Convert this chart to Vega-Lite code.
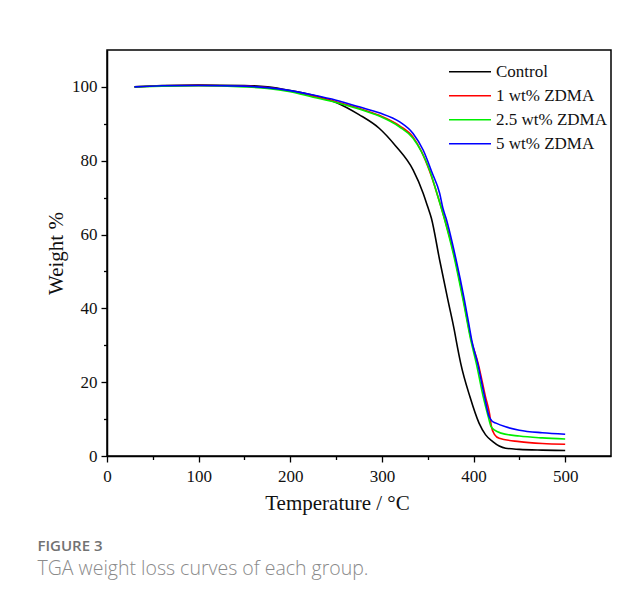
{
  "$schema": "https://vega.github.io/schema/vega-lite/v6.json",
  "width": 504,
  "height": 406,
  "autosize": {"type": "none"},
  "padding": {"left": 107, "top": 50, "right": 33, "bottom": 142},
  "background": "white",
  "config": {
    "view": {"stroke": "black", "strokeWidth": 1.5},
    "axis": {
      "domainColor": "black",
      "domainWidth": 1.5,
      "tickColor": "black",
      "tickWidth": 1.3,
      "grid": false,
      "labelFont": "Liberation Serif",
      "labelFontSize": 17,
      "labelColor": "#111",
      "titleFont": "Liberation Serif",
      "titleFontSize": 21,
      "titleFontWeight": "normal",
      "titleColor": "#111"
    }
  },
  "title": {
    "text": "FIGURE 3",
    "subtitle": "TGA weight loss curves of each group.",
    "orient": "bottom",
    "anchor": "start",
    "frame": "bounds",
    "dx": -8,
    "offset": 26,
    "font": "Open Sans",
    "fontSize": 15,
    "fontWeight": 600,
    "color": "#727272",
    "subtitleFont": "Open Sans",
    "subtitleFontSize": 19.5,
    "subtitleFontWeight": 300,
    "subtitleColor": "#8a8a8a",
    "subtitlePadding": 6
  },
  "data": {
    "values": [
      {"series": "Control", "T": 30, "W": 100.0},
      {"series": "Control", "T": 60, "W": 100.4},
      {"series": "Control", "T": 100, "W": 100.5},
      {"series": "Control", "T": 150, "W": 100.4},
      {"series": "Control", "T": 175, "W": 100.0},
      {"series": "Control", "T": 200, "W": 99.0},
      {"series": "Control", "T": 225, "W": 97.7},
      {"series": "Control", "T": 250, "W": 95.8},
      {"series": "Control", "T": 275, "W": 92.5},
      {"series": "Control", "T": 297, "W": 88.8},
      {"series": "Control", "T": 315, "W": 84.0},
      {"series": "Control", "T": 334, "W": 77.5},
      {"series": "Control", "T": 345, "W": 71.2},
      {"series": "Control", "T": 350, "W": 67.5},
      {"series": "Control", "T": 354, "W": 64.4},
      {"series": "Control", "T": 363, "W": 53.1},
      {"series": "Control", "T": 372, "W": 42.3},
      {"series": "Control", "T": 379, "W": 34.1},
      {"series": "Control", "T": 381, "W": 31.4},
      {"series": "Control", "T": 386, "W": 25.1},
      {"series": "Control", "T": 396, "W": 16.1},
      {"series": "Control", "T": 406, "W": 8.9},
      {"series": "Control", "T": 413, "W": 5.8},
      {"series": "Control", "T": 421, "W": 3.9},
      {"series": "Control", "T": 428, "W": 2.7},
      {"series": "Control", "T": 435, "W": 2.1},
      {"series": "Control", "T": 450, "W": 1.8},
      {"series": "Control", "T": 475, "W": 1.6},
      {"series": "Control", "T": 500, "W": 1.5},

      {"series": "1 wt% ZDMA", "T": 30, "W": 100.0},
      {"series": "1 wt% ZDMA", "T": 60, "W": 100.3},
      {"series": "1 wt% ZDMA", "T": 100, "W": 100.4},
      {"series": "1 wt% ZDMA", "T": 150, "W": 100.2},
      {"series": "1 wt% ZDMA", "T": 175, "W": 99.8},
      {"series": "1 wt% ZDMA", "T": 200, "W": 98.9},
      {"series": "1 wt% ZDMA", "T": 225, "W": 97.5},
      {"series": "1 wt% ZDMA", "T": 250, "W": 96.0},
      {"series": "1 wt% ZDMA", "T": 275, "W": 94.2},
      {"series": "1 wt% ZDMA", "T": 297, "W": 92.3},
      {"series": "1 wt% ZDMA", "T": 319, "W": 89.5},
      {"series": "1 wt% ZDMA", "T": 334, "W": 86.4},
      {"series": "1 wt% ZDMA", "T": 343, "W": 82.6},
      {"series": "1 wt% ZDMA", "T": 352, "W": 77.2},
      {"series": "1 wt% ZDMA", "T": 360, "W": 71.2},
      {"series": "1 wt% ZDMA", "T": 368, "W": 64.6},
      {"series": "1 wt% ZDMA", "T": 380, "W": 53.3},
      {"series": "1 wt% ZDMA", "T": 389, "W": 42.4},
      {"series": "1 wt% ZDMA", "T": 397.5, "W": 31.4},
      {"series": "1 wt% ZDMA", "T": 405, "W": 25.1},
      {"series": "1 wt% ZDMA", "T": 413, "W": 16.1},
      {"series": "1 wt% ZDMA", "T": 417.5, "W": 11.4},
      {"series": "1 wt% ZDMA", "T": 419.5, "W": 8.0},
      {"series": "1 wt% ZDMA", "T": 423, "W": 5.8},
      {"series": "1 wt% ZDMA", "T": 428, "W": 4.8},
      {"series": "1 wt% ZDMA", "T": 450, "W": 3.9},
      {"series": "1 wt% ZDMA", "T": 475, "W": 3.4},
      {"series": "1 wt% ZDMA", "T": 500, "W": 3.2},

      {"series": "2.5 wt% ZDMA", "T": 30, "W": 100.0},
      {"series": "2.5 wt% ZDMA", "T": 60, "W": 100.2},
      {"series": "2.5 wt% ZDMA", "T": 100, "W": 100.3},
      {"series": "2.5 wt% ZDMA", "T": 150, "W": 100.0},
      {"series": "2.5 wt% ZDMA", "T": 175, "W": 99.6},
      {"series": "2.5 wt% ZDMA", "T": 200, "W": 98.7},
      {"series": "2.5 wt% ZDMA", "T": 225, "W": 97.2},
      {"series": "2.5 wt% ZDMA", "T": 250, "W": 95.8},
      {"series": "2.5 wt% ZDMA", "T": 275, "W": 94.0},
      {"series": "2.5 wt% ZDMA", "T": 297, "W": 92.1},
      {"series": "2.5 wt% ZDMA", "T": 319, "W": 89.2},
      {"series": "2.5 wt% ZDMA", "T": 334, "W": 86.1},
      {"series": "2.5 wt% ZDMA", "T": 343, "W": 82.5},
      {"series": "2.5 wt% ZDMA", "T": 352, "W": 77.5},
      {"series": "2.5 wt% ZDMA", "T": 360, "W": 71.2},
      {"series": "2.5 wt% ZDMA", "T": 368, "W": 64.4},
      {"series": "2.5 wt% ZDMA", "T": 379.5, "W": 53.1},
      {"series": "2.5 wt% ZDMA", "T": 388.5, "W": 42.3},
      {"series": "2.5 wt% ZDMA", "T": 397, "W": 31.4},
      {"series": "2.5 wt% ZDMA", "T": 403, "W": 25.1},
      {"series": "2.5 wt% ZDMA", "T": 410.5, "W": 16.1},
      {"series": "2.5 wt% ZDMA", "T": 416, "W": 10.7},
      {"series": "2.5 wt% ZDMA", "T": 419, "W": 8.0},
      {"series": "2.5 wt% ZDMA", "T": 423, "W": 7.0},
      {"series": "2.5 wt% ZDMA", "T": 430, "W": 6.2},
      {"series": "2.5 wt% ZDMA", "T": 450, "W": 5.4},
      {"series": "2.5 wt% ZDMA", "T": 475, "W": 4.9},
      {"series": "2.5 wt% ZDMA", "T": 500, "W": 4.6},

      {"series": "5 wt% ZDMA", "T": 30, "W": 100.0},
      {"series": "5 wt% ZDMA", "T": 60, "W": 100.3},
      {"series": "5 wt% ZDMA", "T": 100, "W": 100.4},
      {"series": "5 wt% ZDMA", "T": 150, "W": 100.2},
      {"series": "5 wt% ZDMA", "T": 175, "W": 99.8},
      {"series": "5 wt% ZDMA", "T": 200, "W": 99.0},
      {"series": "5 wt% ZDMA", "T": 225, "W": 97.8},
      {"series": "5 wt% ZDMA", "T": 250, "W": 96.4},
      {"series": "5 wt% ZDMA", "T": 275, "W": 94.6},
      {"series": "5 wt% ZDMA", "T": 297, "W": 93.0},
      {"series": "5 wt% ZDMA", "T": 319, "W": 90.6},
      {"series": "5 wt% ZDMA", "T": 334, "W": 87.4},
      {"series": "5 wt% ZDMA", "T": 345, "W": 82.9},
      {"series": "5 wt% ZDMA", "T": 355, "W": 76.6},
      {"series": "5 wt% ZDMA", "T": 363, "W": 71.2},
      {"series": "5 wt% ZDMA", "T": 366.5, "W": 67.2},
      {"series": "5 wt% ZDMA", "T": 370, "W": 64.4},
      {"series": "5 wt% ZDMA", "T": 381, "W": 53.1},
      {"series": "5 wt% ZDMA", "T": 390, "W": 42.3},
      {"series": "5 wt% ZDMA", "T": 395, "W": 35.5},
      {"series": "5 wt% ZDMA", "T": 398, "W": 31.4},
      {"series": "5 wt% ZDMA", "T": 404.5, "W": 25.1},
      {"series": "5 wt% ZDMA", "T": 412, "W": 16.1},
      {"series": "5 wt% ZDMA", "T": 417, "W": 10.7},
      {"series": "5 wt% ZDMA", "T": 420, "W": 9.5},
      {"series": "5 wt% ZDMA", "T": 424.5, "W": 8.9},
      {"series": "5 wt% ZDMA", "T": 435, "W": 7.9},
      {"series": "5 wt% ZDMA", "T": 450, "W": 7.0},
      {"series": "5 wt% ZDMA", "T": 475, "W": 6.3},
      {"series": "5 wt% ZDMA", "T": 500, "W": 5.9}
    ]
  },
  "mark": {"type": "line", "strokeWidth": 1.6, "interpolate": "monotone"},
  "encoding": {
    "x": {
      "field": "T",
      "type": "quantitative",
      "scale": {"domain": [0, 550], "nice": false},
      "axis": {
        "title": "Temperature / °C",
        "titlePadding": 8,
        "titleX": 230,
        "values": [0, 50, 100, 150, 200, 250, 300, 350, 400, 450, 500],
        "labelExpr": "datum.value % 100 === 0 ? datum.label : ''",
        "tickSize": {"condition": {"test": "datum.value % 100 === 0", "value": 6}, "value": 3.5},
        "labelPadding": 6,
        "labelFlush": false,
        "labelOverlap": false
      }
    },
    "y": {
      "field": "W",
      "type": "quantitative",
      "scale": {"domain": [0, 110], "nice": false},
      "axis": {
        "title": "Weight %",
        "titlePadding": 5,
        "values": [0, 10, 20, 30, 40, 50, 60, 70, 80, 90, 100],
        "labelExpr": "datum.value % 20 === 0 ? datum.label : ''",
        "tickSize": {"condition": {"test": "datum.value % 20 === 0", "value": 6}, "value": 3.5},
        "labelPadding": 4,
        "labelFlush": false,
        "labelOverlap": false
      }
    },
    "color": {
      "field": "series",
      "type": "nominal",
      "sort": ["Control", "1 wt% ZDMA", "2.5 wt% ZDMA", "5 wt% ZDMA"],
      "scale": {
        "domain": ["Control", "1 wt% ZDMA", "2.5 wt% ZDMA", "5 wt% ZDMA"],
        "range": ["#000000", "#ff0000", "#00ee00", "#0000ff"]
      },
      "legend": {
        "title": null,
        "orient": "none",
        "legendX": 341,
        "legendY": 10,
        "padding": 0,
        "symbolType": "stroke",
        "symbolSize": 1764,
        "symbolStrokeWidth": 1.6,
        "clipHeight": 23.5,
        "rowPadding": 0,
        "labelOffset": 4,
        "labelFont": "Liberation Serif",
        "labelFontSize": 17,
        "labelColor": "#111",
        "labelLimit": 200
      }
    }
  }
}
